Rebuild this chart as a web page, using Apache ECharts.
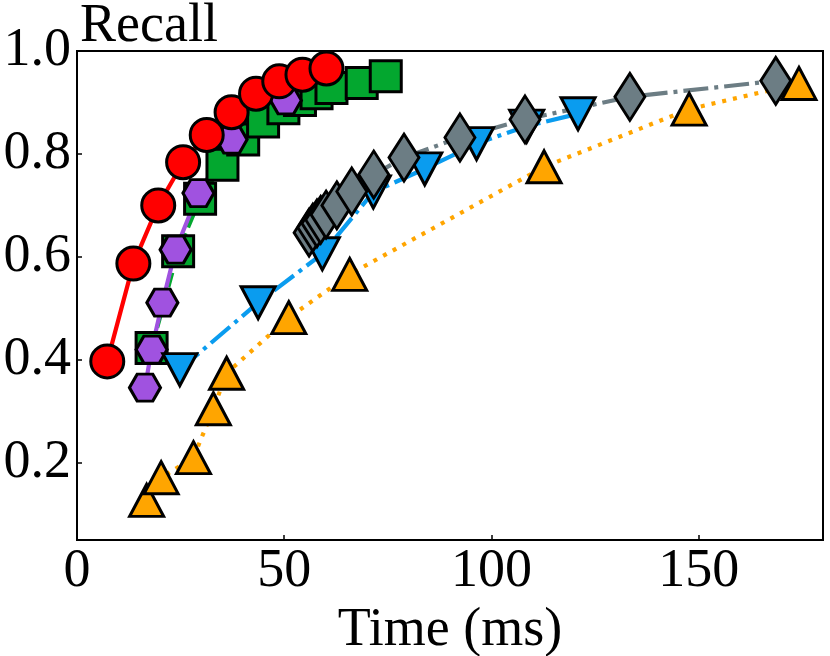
<!DOCTYPE html>
<html>
<head>
<meta charset="utf-8">
<script src="https://cdn.jsdelivr.net/npm/echarts@6/dist/echarts.min.js"></script>
<style>
  html, body { margin: 0; padding: 0; background: #fff; }
  #chart { width: 830px; height: 656px; }
</style>
</head>
<body>
<div id="chart"></div>
<script>
// values (x: time in ms, y: recall)
var redX = [7.3, 13.6, 19.6, 25.6, 31.3, 37.3, 43.2, 48.8, 54.4, 60.2];
var redY = [0.397, 0.587, 0.700, 0.784, 0.837, 0.881, 0.917, 0.941, 0.954, 0.966];

var greenX = [18.0, 24.4, 29.7, 35.1, 40.1, 44.9, 49.8, 53.8, 57.8, 61.4, 68.7, 74.5];
var greenY = [0.423, 0.611, 0.713, 0.779, 0.828, 0.863, 0.889, 0.905, 0.918, 0.928, 0.938, 0.951];

var purpleX = [16.4, 18.0, 20.6, 23.8, 29.3, 37.3, 50.4];
var purpleY = [0.346, 0.420, 0.511, 0.614, 0.724, 0.828, 0.904];

var blueX = [24.8, 43.7, 59.2, 71.5, 83.9, 96.4, 108.5, 120.9];
var blueY = [0.381, 0.511, 0.606, 0.726, 0.771, 0.820, 0.854, 0.878];

var grayX = [56.0, 56.9, 57.9, 58.8, 60.1, 62.7, 66.3, 71.6, 78.9, 92.4, 108.1, 133.4, 168.6];
var grayY = [0.647, 0.657, 0.665, 0.672, 0.682, 0.700, 0.727, 0.760, 0.793, 0.832, 0.867, 0.911, 0.942];

var orangeX = [16.8, 20.3, 28.1, 32.9, 36.1, 51.1, 65.8, 112.7, 147.7, 174.2];
var orangeY = [0.127, 0.171, 0.210, 0.305, 0.374, 0.482, 0.566, 0.775, 0.887, 0.937];

var xTicks = [0, 50, 100, 150];
var yTicks = [0.2, 0.4, 0.6, 0.8, 1.0];

var FONT = 'Liberation Serif';
var FS = 54;
var HEX = 'path://M-1,0 L-0.5,-0.866 L0.5,-0.866 L1,0 L0.5,0.866 L-0.5,0.866 Z';

function pairs(xs, ys) {
    return xs.map(function (x, i) { return [x, ys[i]]; });
}

function makeSeries(xs, ys, color, symbol, size, lineType, rotate) {
    return {
        type: 'line',
        data: pairs(xs, ys),
        symbol: symbol,
        symbolSize: size,
        symbolRotate: rotate || 0,
        showAllSymbol: true,
        lineStyle: { color: color, width: 4.2, type: lineType, cap: 'butt' },
        itemStyle: { color: color, borderColor: '#000', borderWidth: 3 },
        emphasis: { disabled: true }
    };
}

var chart = echarts.init(document.getElementById('chart'));
chart.setOption({
    animation: false,
    backgroundColor: '#fff',
    title: {
        text: 'Recall',
        left: 75,
        top: -5,
        textStyle: { fontFamily: FONT, fontSize: FS, fontWeight: 'normal', color: '#000' }
    },
    grid: {
        left: 77, right: 7, top: 51, bottom: 116,
        containLabel: false,
        outerBoundsMode: 'none',
        show: true,
        borderColor: '#000',
        borderWidth: 2
    },
    xAxis: {
        type: 'value',
        min: 0, max: 180,
        name: 'Time (ms)',
        nameLocation: 'middle',
        nameGap: 55,
        nameTextStyle: { fontFamily: FONT, fontSize: FS, color: '#000' },
        splitLine: { show: false },
        axisLine: { lineStyle: { color: '#000', width: 2 } },
        axisTick: { inside: true, length: 5, customValues: xTicks, lineStyle: { color: '#000', width: 1.5 } },
        axisLabel: { customValues: xTicks, margin: 5, fontFamily: FONT, fontSize: FS, color: '#000' }
    },
    yAxis: {
        type: 'value',
        min: 0.05, max: 1.0,
        splitLine: { show: false },
        axisLine: { show: true, lineStyle: { color: '#000', width: 2 } },
        axisTick: { show: true, inside: true, length: 5, customValues: yTicks, lineStyle: { color: '#000', width: 1.5 } },
        axisLabel: {
            customValues: yTicks, margin: 6, fontFamily: FONT, fontSize: FS, color: '#000',
            formatter: function (v) { return v.toFixed(1); }
        }
    },
    series: [
        makeSeries(greenX, greenY, '#03a72f', 'rect', 31, [15, 6]),
        makeSeries(purpleX, purpleY, '#a052e0', HEX, [31, 27], 'solid'),
        makeSeries(redX, redY, '#ff0000', 'circle', 33, 'solid'),
        makeSeries(blueX, blueY, '#0a9cef', 'triangle', [34, 32], [25, 6, 4, 6], 180),
        makeSeries(grayX, grayY, '#6c7d84', 'diamond', [30, 47], [25, 6, 4, 6]),
        makeSeries(orangeX, orangeY, '#ffa500', 'triangle', [34, 32], [4, 7])
    ]
});
</script>
</body>
</html>
